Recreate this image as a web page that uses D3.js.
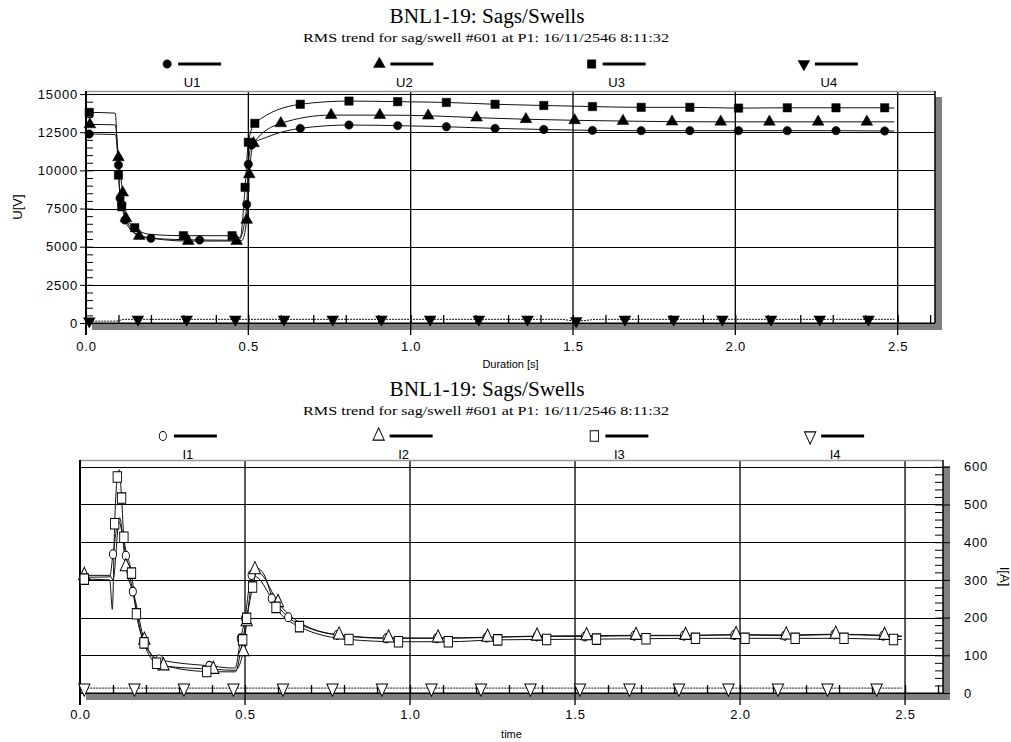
<!DOCTYPE html>
<html>
<head>
<meta charset="utf-8">
<script src="https://cdn.jsdelivr.net/npm/d3@7"></script>
<style>
  body { margin: 0; background: #fff; }
  svg { display: block; }
  .ttl { font-family: "Liberation Serif", "Times New Roman", serif; fill: #000; }
  .sans { font-family: "Liberation Sans", Arial, sans-serif; fill: #000; }
  .tick text { font-family: "Liberation Sans", Arial, sans-serif; font-size: 13px; letter-spacing: 0.8px; fill: #000; }
  .tick line { stroke: #000; }
</style>
</head>
<body>
<svg width="1011" height="742"></svg>
<script>
// [time s, value, marker?]
var U1 = [[0.01,12380,1],[0.09,12350,0],[0.10,10350,1],[0.105,8170,1],[0.11,7790,1],[0.12,6750,1],[0.15,5900,0],
  [0.20,5550,1],[0.35,5440,1],[0.47,5420,0],[0.485,6200,0],[0.495,7770,1],[0.50,10400,1],[0.51,11660,1],[0.56,12200,0],
  [0.66,12750,1],[0.81,12970,1],[0.96,12930,1],[1.11,12860,1],[1.26,12750,1],[1.41,12680,1],[1.56,12620,1],[1.71,12600,1],
  [1.86,12600,1],[2.01,12600,1],[2.16,12600,1],[2.31,12600,1],[2.46,12580,1],[2.49,12580,0]];
var U2 = [[0.012,13010,1],[0.09,12980,0],[0.10,10850,1],[0.113,8540,1],[0.123,6860,1],[0.164,5700,1],[0.315,5370,1],
  [0.464,5370,1],[0.48,5400,0],[0.495,6750,1],[0.503,9740,1],[0.516,11770,1],[0.60,13080,1],[0.755,13620,1],[0.905,13620,1],
  [1.054,13580,1],[1.203,13450,1],[1.355,13350,1],[1.505,13280,1],[1.654,13230,1],[1.805,13190,1],[1.955,13180,1],
  [2.105,13180,1],[2.255,13180,1],[2.405,13180,1],[2.49,13180,0]];
var U3 = [[0.01,13800,1],[0.09,13750,0],[0.10,9690,1],[0.11,7620,1],[0.15,6240,1],[0.20,5800,0],[0.30,5720,1],[0.45,5720,1],
  [0.475,5600,0],[0.49,8890,1],[0.50,11840,1],[0.52,13080,1],[0.66,14330,1],[0.81,14540,1],[0.96,14500,1],[1.11,14450,1],
  [1.26,14330,1],[1.41,14250,1],[1.56,14180,1],[1.71,14130,1],[1.86,14130,1],[2.01,14080,1],[2.16,14100,1],[2.31,14100,1],
  [2.46,14100,1],[2.49,14080,0]];
var U4 = [[0.01,120,1],[0.09,120,0],[0.12,240,0],[0.16,240,1],[0.31,240,1],[0.46,240,1],[0.61,240,1],[0.76,240,1],[0.91,240,1],
  [1.06,240,1],[1.21,240,1],[1.36,240,1],[1.46,240,0],[1.51,130,1],[1.58,240,0],[1.66,240,1],[1.81,240,1],[1.96,240,1],
  [2.11,240,1],[2.26,240,1],[2.41,240,1],[2.49,240,0]];

var I1 = [[0.013,307,1],[0.09,308,0],[0.10,368,1],[0.117,455,0],[0.139,364,1],[0.16,269,1],[0.172,213,1],[0.192,139,1],
  [0.24,89,1],[0.392,72,1],[0.47,66,0],[0.487,145,1],[0.50,198,1],[0.52,313,1],[0.54,305,0],[0.581,251,1],[0.631,201,1],
  [0.70,170,0],[0.78,154,1],[0.929,145,1],[1.081,145,1],[1.232,147,1],[1.384,150,1],[1.53,150,1],[1.68,152,1],[1.83,152,1],
  [1.983,154,1],[2.136,152,1],[2.286,155,1],[2.434,152,1],[2.49,150,0]];
var I2 = [[0.013,312,1],[0.09,312,0],[0.10,300,0],[0.12,465,0],[0.139,335,1],[0.165,255,0],[0.195,140,1],[0.253,72,1],
  [0.404,63,1],[0.47,60,0],[0.495,110,1],[0.505,189,1],[0.53,327,1],[0.55,315,0],[0.60,240,1],[0.66,190,0],[0.785,154,1],
  [0.935,146,1],[1.085,146,1],[1.235,148,1],[1.385,151,1],[1.535,152,1],[1.685,153,1],[1.835,153,1],[1.988,155,1],
  [2.14,154,1],[2.29,156,1],[2.438,153,1],[2.49,151,0]];
var I3 = [[0.013,302,1],[0.09,300,0],[0.098,222,0],[0.105,449,1],[0.113,573,1],[0.119,592,0],[0.126,517,1],[0.133,413,1],
  [0.156,318,1],[0.171,210,1],[0.194,133,1],[0.232,79,1],[0.384,57,1],[0.47,56,0],[0.493,141,1],[0.505,198,1],[0.523,281,1],
  [0.54,330,0],[0.555,318,0],[0.594,227,1],[0.665,176,1],[0.815,142,1],[0.965,136,1],[1.116,136,1],[1.266,141,1],[1.414,142,1],
  [1.565,143,1],[1.715,144,1],[1.865,145,1],[2.015,145,1],[2.167,145,1],[2.315,145,1],[2.465,142,1],[2.49,142,0]];
var I4 = [[0.013,13,1],[0.165,13,1],[0.315,13,1],[0.465,13,1],[0.615,13,1],[0.765,13,1],[0.915,13,1],[1.065,13,1],
  [1.215,13,1],[1.365,13,1],[1.515,13,1],[1.665,13,1],[1.815,13,1],[1.965,13,1],[2.115,13,1],[2.265,13,1],[2.414,13,1],[2.49,13,0]];

var uTicks = [0, 2500, 5000, 7500, 10000, 12500, 15000];
var iTicks = [0, 100, 200, 300, 400, 500, 600];
var xTicks = [0, 0.5, 1.0, 1.5, 2.0, 2.5];
var uNames = ["U1", "U2", "U3", "U4"];
var iNames = ["I1", "I2", "I3", "I4"];
var mainTitle = "BNL1-19: Sags/Swells";
var subTitle = "RMS trend for sag/swell #601 at P1: 16/11/2546 8:11:32";

var svg = d3.select("svg");
var shapes = ["circle", "up", "square", "down"];

function symbolPath(kind, open) {
  if (kind == "circle") return d3.symbol().type(d3.symbolCircle).size(open ? 40 : 55)();
  if (kind == "square") return d3.symbol().type(d3.symbolSquare).size(70)();
  return d3.symbol().type(d3.symbolTriangle).size(open ? 55 : 60)();
}

function drawMarker(g, kind, x, y, open) {
  var rot = kind == "down" ? " rotate(180)" : "";
  var sc = open ? " scale(1,1.25)" : "";
  g.append("path")
    .attr("d", symbolPath(kind, open))
    .attr("transform", "translate(" + x + "," + y + ")" + rot + sc)
    .attr("fill", open ? "#fff" : "#000")
    .attr("stroke", "#000")
    .attr("stroke-width", open ? 0.9 : 0.5);
}

function panel(o) {
  var g = svg.append("g");
  var x = d3.scaleLinear().domain([0, 2.615]).range([o.left, o.right]);
  var y = d3.scaleLinear().domain([0, o.ymax]).range([o.bottom, o.top]);
  var w = o.right - o.left, h = o.bottom - o.top;

  // titles (the original is a bit stretched sideways)
  g.append("text").attr("class", "ttl").attr("x", 487).attr("y", o.top - 68 + o.dy)
    .attr("text-anchor", "middle").style("font-size", "20px")
    .attr("textLength", 195).attr("lengthAdjust", "spacingAndGlyphs").text(mainTitle);
  g.append("text").attr("class", "ttl").attr("x", 486).attr("y", o.top - 49 + o.dy)
    .attr("text-anchor", "middle").style("font-size", "13.5px")
    .attr("textLength", 366).attr("lengthAdjust", "spacingAndGlyphs").text(subTitle);

  // shadow + plot background
  g.append("rect").attr("x", o.left + 6).attr("y", o.top + 6).attr("width", w + 1).attr("height", h + 1).attr("fill", "#808080");
  g.append("rect").attr("x", o.left).attr("y", o.top).attr("width", w).attr("height", h).attr("fill", "#fff");

  // horizontal grid
  g.append("g").selectAll("line").data(o.yTicks).enter().append("line")
    .attr("x1", o.left).attr("x2", o.right)
    .attr("y1", function(d) { return Math.round(y(d)) + 0.5; })
    .attr("y2", function(d) { return Math.round(y(d)) + 0.5; })
    .attr("stroke", "#000").attr("stroke-width", 1);

  // vertical major lines, extending below frame
  g.append("g").selectAll("line").data(xTicks).enter().append("line")
    .attr("x1", function(d) { return x(d); }).attr("x2", function(d) { return x(d); })
    .attr("y1", o.top).attr("y2", o.bottom + 12)
    .attr("stroke", "#000").attr("stroke-width", 1.3);

  // frame
  g.append("line").attr("x1", o.left).attr("x2", o.right).attr("y1", o.top + 0.5).attr("y2", o.top + 0.5)
    .attr("stroke", "#999").attr("stroke-width", 1.5);
  g.append("line").attr("x1", o.left).attr("x2", o.right).attr("y1", o.bottom).attr("y2", o.bottom)
    .attr("stroke", "#000").attr("stroke-width", 1);
  g.append("line").attr("x1", o.left).attr("x2", o.left).attr("y1", o.top).attr("y2", o.bottom + 12)
    .attr("stroke", "#000").attr("stroke-width", 2);
  g.append("line").attr("x1", o.right).attr("x2", o.right).attr("y1", o.top).attr("y2", o.bottom)
    .attr("stroke", "#000").attr("stroke-width", 1.5);

  // x axis labels
  var xa = g.append("g").attr("transform", "translate(0," + o.bottom + ")")
    .call(d3.axisBottom(x).tickValues(xTicks).tickSize(0).tickPadding(o.xPad).tickFormat(d3.format(".1f")));
  xa.select(".domain").remove();
  g.append("text").attr("class", "sans").attr("x", (o.left + o.right) / 2).attr("y", o.bottom + 45)
    .attr("text-anchor", "middle").style("font-size", "11px").text(o.xLabel);

  // x minor ticks (every 0.1) pointing up
  var xm = g.append("g").attr("transform", "translate(0," + o.bottom + ")")
    .call(d3.axisTop(x).tickValues(d3.range(1, 27).map(function(i) { return i / 10; })).tickSize(8).tickFormat(""));
  xm.select(".domain").remove();
  xm.selectAll("line").attr("stroke-width", 1.3);

  // y axis
  var minorY = d3.range(0, o.ymax, o.yMinor);
  if (o.side == "left") {
    var ya = g.append("g").attr("transform", "translate(" + o.left + ",0)")
      .call(d3.axisLeft(y).tickValues(o.yTicks).tickSize(6).tickPadding(2).tickFormat(d3.format("d")));
    ya.select(".domain").remove();
    var ym = g.append("g").attr("transform", "translate(" + o.left + ",0)")
      .call(d3.axisRight(y).tickValues(minorY).tickSize(7).tickFormat(""));
    ym.select(".domain").remove();
    g.append("text").attr("class", "sans").attr("transform", "translate(22," + ((o.top + o.bottom) / 2) + ") rotate(-90)")
      .attr("text-anchor", "middle").style("font-size", "13px").text(o.yLabel);
  } else {
    var yr = g.append("g").attr("transform", "translate(" + o.right + ",0)")
      .call(d3.axisRight(y).tickValues(o.yTicks).tickSize(7).tickPadding(14).tickFormat(d3.format("d")));
    yr.select(".domain").remove();
    var ym2 = g.append("g").attr("transform", "translate(" + o.right + ",0)")
      .call(d3.axisLeft(y).tickValues(minorY).tickSize(8).tickFormat(""));
    ym2.select(".domain").remove();
    g.append("text").attr("class", "sans").attr("transform", "translate(1000," + ((o.top + o.bottom) / 2) + ") rotate(90)")
      .attr("text-anchor", "middle").style("font-size", "13px").text(o.yLabel);
  }

  // series lines
  var line = d3.line().x(function(d) { return x(d[0]); }).y(function(d) { return y(d[1]); }).curve(d3.curveMonotoneX);
  o.series.forEach(function(s, i) {
    g.append("path").datum(s).attr("d", line).attr("fill", "none")
      .attr("stroke", "#111").attr("stroke-width", 1).attr("stroke-dasharray", i == 3 ? "2,1" : null);
  });
  // markers
  var mg = g.append("g");
  o.series.forEach(function(s, i) {
    s.filter(function(d) { return d[2]; }).forEach(function(d) {
      drawMarker(mg, shapes[i], x(d[0]), y(d[1]), o.open);
    });
  });

  // legend
  var lg = g.append("g");
  o.names.forEach(function(n, i) {
    var cx = o.left + w * (2 * i + 1) / 8;
    drawMarker(lg, shapes[i], cx - 25, o.top - 27 + o.ldy, o.open);
    lg.append("line").attr("x1", cx - 14).attr("x2", cx + 29).attr("y1", o.top - 27 + o.ldy).attr("y2", o.top - 27 + o.ldy)
      .attr("stroke", "#000").attr("stroke-width", 3);
    lg.append("text").attr("class", "sans").attr("x", cx).attr("y", o.top - 4 + o.ldy).attr("text-anchor", "middle")
      .style("font-size", "13px").text(n);
  });
}

panel({left: 86, right: 935, top: 91, bottom: 323, ymax: 15200, yTicks: uTicks, yMinor: 500,
  side: "left", yLabel: "U[V]", xLabel: "Duration [s]", xPad: 19, names: uNames,
  series: [U1, U2, U3, U4], open: false, dy: 0, ldy: 0});
panel({left: 80, right: 943, top: 460, bottom: 693, ymax: 618, yTicks: iTicks, yMinor: 20,
  side: "right", yLabel: "I[A]", xLabel: "time", xPad: 17, names: iNames,
  series: [I1, I2, I3, I4], open: true, dy: 4, ldy: 3});
</script>
</body>
</html>
